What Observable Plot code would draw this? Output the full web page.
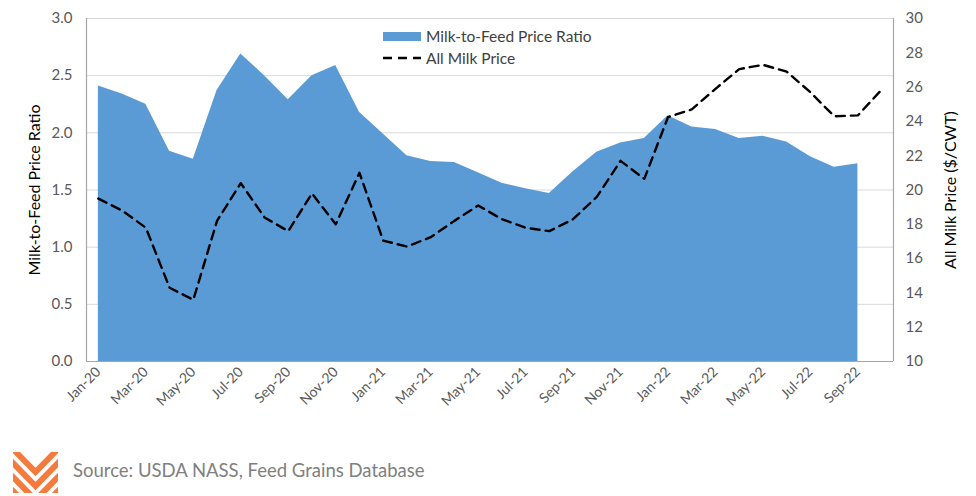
<!DOCTYPE html>
<html>
<head>
<meta charset="utf-8">
<script src="https://cdn.jsdelivr.net/npm/d3@7"></script>
<script src="https://cdn.jsdelivr.net/npm/@observablehq/plot@0.6"></script>
<style>
  html, body { margin: 0; padding: 0; background: #fff; }
  #wrap { position: relative; width: 976px; height: 496px; font-family: Lato, "Open Sans", sans-serif; }
  #legend { position: absolute; left: 383px; top: 25px; font-size: 15.5px; color: #404040; line-height: 22px; }
  #legend .row { display: flex; align-items: center; height: 22px; }
  #legend .sw { width: 38px; height: 9px; margin-right: 5px; }
  #caption { position: absolute; left: 0; top: 440px; width: 976px; height: 56px; }
  #caption .txt { position: absolute; left: 73px; top: 19px; font-size: 18.5px; color: #808080; font-family: Lato, sans-serif; }
</style>
</head>
<body>
<div id="wrap">
  <div id="chart"></div>
  <div id="legend"></div>
  <div id="caption">
    <svg width="60" height="56" style="position:absolute;left:12px;top:10px">
      <defs><clipPath id="lc"><rect x="1" y="2" width="45" height="41"/></clipPath></defs>
      <g clip-path="url(#lc)" fill="none" stroke="#f47b3d" stroke-width="6">
        <polyline points="-4,-6 23.5,22 51,-6"/>
        <polyline points="-4,8 23.5,36 51,8"/>
        <polyline points="-4,22 23.5,50 51,22"/>
        <polyline points="-4,36 23.5,64 51,36"/>
      </g>
    </svg>
    <div class="txt">Source: USDA NASS, Feed Grains Database</div>
  </div>
</div>
<script>
const months = ["Jan-20","Feb-20","Mar-20","Apr-20","May-20","Jun-20","Jul-20","Aug-20","Sep-20","Oct-20","Nov-20","Dec-20",
  "Jan-21","Feb-21","Mar-21","Apr-21","May-21","Jun-21","Jul-21","Aug-21","Sep-21","Oct-21","Nov-21","Dec-21",
  "Jan-22","Feb-22","Mar-22","Apr-22","May-22","Jun-22","Jul-22","Aug-22","Sep-22","Oct-22"];
const ratio = [2.41,2.34,2.25,1.84,1.77,2.37,2.69,2.50,2.29,2.50,2.59,2.18,
  1.99,1.80,1.75,1.74,1.65,1.56,1.51,1.47,1.66,1.83,1.91,1.95,
  2.15,2.05,2.03,1.95,1.97,1.92,1.79,1.70,1.73];
const milkPrice = [19.5,18.8,17.8,14.3,13.6,18.2,20.4,18.4,17.6,19.8,18.0,21.0,
  17.05,16.7,17.25,18.2,19.1,18.3,17.8,17.6,18.3,19.6,21.7,20.65,
  24.25,24.7,25.9,27.05,27.3,26.9,25.7,24.3,24.35,25.85];
const leftTicks = [0,0.5,1.0,1.5,2.0,2.5,3.0];
const rightTicks = [10,12,14,16,18,20,22,24,26,28,30];
const seriesNames = ["Milk-to-Feed Price Ratio","All Milk Price"];
const areaColor = "#5b9bd5";

const toLeft = p => (p - 10) * 3 / 20;
const ratioData = ratio.map((v, i) => ({i, v}));
const priceData = milkPrice.map((v, i) => ({i, v: toLeft(v)}));
const xTicks = d3.range(0, months.length, 2);

const chart = Plot.plot({
  width: 976,
  height: 440,
  marginLeft: 86,
  marginRight: 83,
  marginTop: 18,
  marginBottom: 79,
  style: {fontFamily: "Lato, 'Open Sans', sans-serif", fontSize: "15px", color: "#595959", background: "#fff"},
  x: {type: "linear", domain: [-0.5, months.length - 0.5]},
  y: {domain: [0, 3]},
  marks: [
    Plot.gridY(leftTicks, {stroke: "#d9d9d9", strokeOpacity: 1}),
    Plot.areaY(ratioData, {x: "i", y: "v", fill: areaColor}),
    Plot.lineY(priceData, {x: "i", y: "v", stroke: "#000", strokeWidth: 2.4, strokeDasharray: "9,6"}),
    Plot.ruleY([0], {stroke: "#a6a6a6", strokeWidth: 1.2}),
    Plot.ruleX([-0.5, months.length - 0.5], {stroke: "#a6a6a6", strokeWidth: 1.2}),
    Plot.axisY(leftTicks, {anchor: "left", tickSize: 0, tickPadding: 14, fontSize: 15, tickFormat: d3.format(".1f"),
      label: "Milk-to-Feed Price Ratio", labelAnchor: "center", labelArrow: "none", labelOffset: 58}),
    Plot.axisY(rightTicks.map(toLeft), {anchor: "right", tickSize: 0, tickPadding: 12, fontSize: 15,
      tickFormat: d => String(Math.round(d * 20 / 3 + 10)),
      label: "All Milk Price ($/CWT)", labelAnchor: "center", labelArrow: "none", labelOffset: 62}),
    Plot.axisX(xTicks, {anchor: "bottom", tickSize: 0, tickPadding: 8, tickRotate: -45, fontSize: 14,
      tickFormat: i => months[i], label: null})
  ]
});
d3.select(chart).selectAll("g[aria-label='y-axis label'] text, g[aria-label='y-axis label']")
  .attr("fill", "#000").attr("font-size", 16).style("font-size", "16px");
document.getElementById("chart").appendChild(chart);

const legend = d3.select("#legend");
const r1 = legend.append("div").attr("class", "row");
r1.append("div").attr("class", "sw").style("background", areaColor);
r1.append("span").text(seriesNames[0]);
const r2 = legend.append("div").attr("class", "row");
r2.append("svg").attr("width", 38).attr("height", 10).style("margin-right", "5px")
  .append("line").attr("x1", 0).attr("x2", 38).attr("y1", 5).attr("y2", 5)
  .attr("stroke", "#000").attr("stroke-width", 2.4).attr("stroke-dasharray", "9,6");
r2.append("span").text(seriesNames[1]);
</script>
</body>
</html>
